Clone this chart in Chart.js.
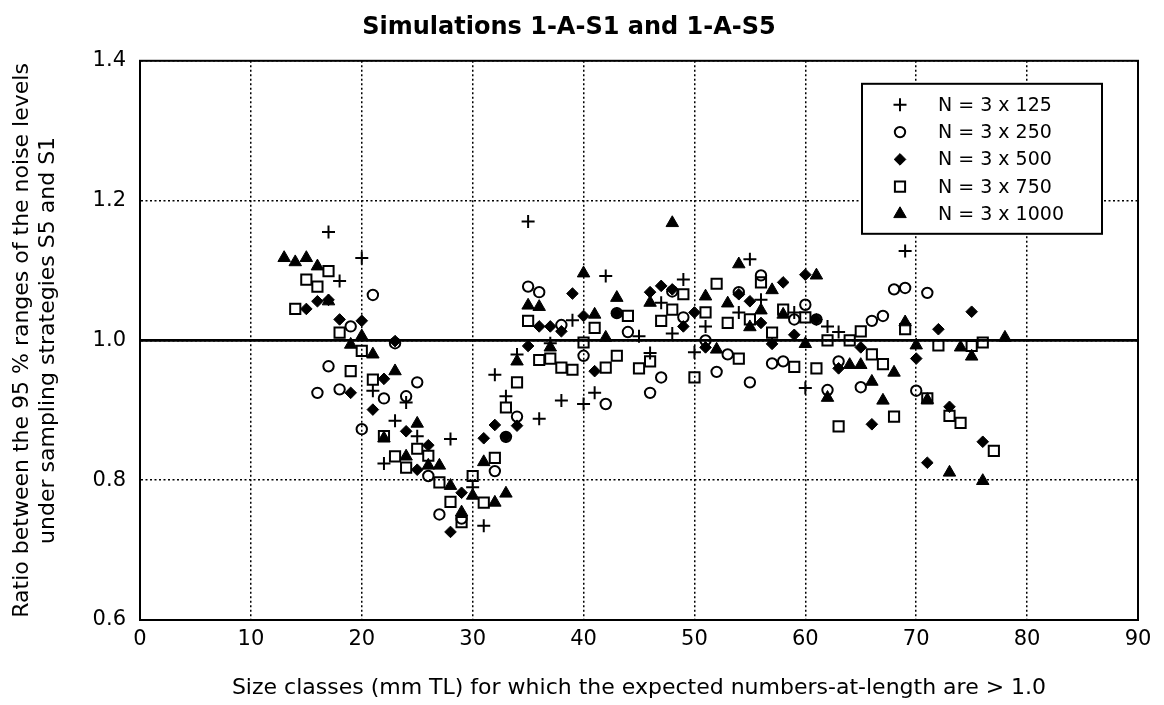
<!DOCTYPE html>
<html>
<head>
<meta charset="utf-8">
<title>Simulations 1-A-S1 and 1-A-S5</title>
<script src="https://cdn.jsdelivr.net/npm/chart.js@4.4.1/dist/chart.umd.min.js"></script>
<style>
  html, body { margin: 0; padding: 0; background: #fff; }
</style>
</head>
<body>
<canvas id="myChart" width="1164" height="705"></canvas>
<script>
// [size class (mm TL), ratio S5/S1] for each sample size
const n125 = [
  [17, 1.155], [18, 1.085], [20, 1.118], [21, 0.928], [22, 0.824], [23, 0.885],
  [24, 0.911], [25, 0.863], [28, 0.859], [30, 0.790], [31, 0.735], [32, 0.951],
  [33, 0.920], [34, 0.980], [35, 1.170], [36, 0.888], [37, 0.996], [38, 0.914],
  [39, 1.029], [40, 0.909], [41, 0.925], [42, 1.092], [45, 1.006], [46, 0.982],
  [47, 1.054], [48, 1.010], [49, 1.087], [50, 0.983], [51, 1.020], [54, 1.040],
  [55, 1.116], [56, 1.058], [59, 1.040], [60, 0.932], [62, 1.020], [63, 1.012],
  [69, 1.128]
];
const n250 = [
  [16, 0.925], [17, 0.963], [18, 0.930], [19, 1.020], [20, 0.873], [21, 1.065],
  [22, 0.917], [23, 0.996], [24, 0.920], [25, 0.940], [26, 0.806], [27, 0.751],
  [29, 0.745], [32, 0.813], [33, 0.862], [34, 0.891], [35, 1.077], [36, 1.069],
  [38, 1.022], [40, 0.978], [42, 0.909], [43, 1.039], [44, 1.012], [46, 0.925],
  [47, 0.947], [48, 1.070], [49, 1.033], [51, 1.000], [52, 0.955], [53, 0.980],
  [54, 1.069], [55, 0.940], [56, 1.093], [57, 0.967], [58, 0.970], [59, 1.030],
  [60, 1.051], [61, 1.030], [62, 0.929], [63, 0.970], [65, 0.933], [66, 1.028],
  [67, 1.035], [68, 1.073], [69, 1.075], [70, 0.928], [71, 1.068]
];
const n500 = [
  [15, 1.045], [16, 1.056], [17, 1.058], [18, 1.030], [19, 0.925], [20, 1.028],
  [21, 0.901], [22, 0.945], [23, 0.999], [24, 0.870], [25, 0.815], [26, 0.850],
  [28, 0.726], [29, 0.782], [31, 0.860], [32, 0.879], [33, 0.862], [34, 0.878],
  [35, 0.992], [36, 1.020], [37, 1.020], [38, 1.013], [39, 1.067], [40, 1.035],
  [41, 0.956], [43, 1.039], [46, 1.069], [47, 1.078], [48, 1.073], [49, 1.020],
  [50, 1.040], [51, 0.990], [54, 1.066], [55, 1.056], [56, 1.025], [57, 0.995],
  [58, 1.083], [59, 1.008], [60, 1.094], [61, 1.030], [63, 0.960], [65, 0.990],
  [66, 0.880], [70, 0.974], [71, 0.825], [72, 1.016], [73, 0.905], [75, 1.041],
  [76, 0.855]
];
const n750 = [
  [14, 1.045], [15, 1.087], [16, 1.077], [17, 1.099], [18, 1.011], [19, 0.956],
  [20, 0.985], [21, 0.944], [22, 0.863], [23, 0.834], [24, 0.818], [25, 0.845],
  [26, 0.835], [27, 0.797], [28, 0.769], [29, 0.740], [30, 0.806], [31, 0.768],
  [32, 0.832], [33, 0.904], [34, 0.940], [35, 1.028], [36, 0.972], [37, 0.974],
  [38, 0.961], [39, 0.958], [40, 0.997], [41, 1.018], [42, 0.961], [43, 0.978],
  [44, 1.035], [45, 0.960], [46, 0.970], [47, 1.028], [48, 1.044], [49, 1.066],
  [50, 0.947], [51, 1.040], [52, 1.081], [53, 1.025], [54, 0.974], [55, 1.030],
  [56, 1.083], [57, 1.011], [58, 1.044], [59, 0.962], [60, 1.033], [61, 0.960],
  [62, 1.000], [63, 0.877], [64, 1.000], [65, 1.013], [66, 0.980], [67, 0.966],
  [68, 0.891], [69, 1.016], [71, 0.917], [72, 0.993], [73, 0.892], [74, 0.882],
  [75, 0.992], [76, 0.997], [77, 0.842]
];
const n1000 = [
  [13, 1.118], [14, 1.112], [15, 1.118], [16, 1.106], [17, 1.056], [19, 0.994],
  [20, 1.006], [21, 0.980], [22, 0.860], [23, 0.956], [24, 0.834], [25, 0.881],
  [26, 0.821], [27, 0.821], [28, 0.792], [29, 0.754], [30, 0.778], [31, 0.826],
  [32, 0.768], [33, 0.781], [34, 0.970], [35, 1.050], [36, 1.048], [37, 0.990],
  [40, 1.096], [41, 1.037], [42, 1.004], [43, 1.061], [46, 1.054], [48, 1.168],
  [51, 1.063], [52, 0.987], [53, 1.053], [54, 1.109], [55, 1.019], [56, 1.043],
  [57, 1.072], [58, 1.037], [60, 0.995], [61, 1.093], [62, 0.918], [64, 0.965],
  [65, 0.965], [66, 0.941], [67, 0.914], [68, 0.954], [69, 1.026], [70, 0.993],
  [71, 0.915], [73, 0.811], [74, 0.990], [75, 0.977], [76, 0.799], [78, 1.004]
];

const seriesLabels = ['N = 3 x 125', 'N = 3 x 250', 'N = 3 x 500', 'N = 3 x 750', 'N = 3 x 1000'];
const refRatio = 1.0;

const FONT = "'DejaVu Sans', 'Liberation Sans', sans-serif";

const toPoints = arr => arr.map(p => ({ x: p[0], y: p[1] }));

const markers = [
  { pointStyle: 'cross', radius: 6.5, backgroundColor: '#000', borderWidth: 2 },
  { pointStyle: 'circle', radius: 5.2, backgroundColor: 'rgba(0,0,0,0)', borderWidth: 2 },
  { pointStyle: 'rectRot', radius: 5.8, backgroundColor: '#000', borderWidth: 1 },
  { pointStyle: 'rect', radius: 7.2, backgroundColor: 'rgba(0,0,0,0)', borderWidth: 2 },
  { pointStyle: 'triangle', radius: 7.2, backgroundColor: '#000', borderWidth: 1 }
];

const allSeries = [n125, n250, n500, n750, n1000];

const datasets = allSeries.map((s, i) => ({
  label: seriesLabels[i],
  data: toPoints(s),
  pointStyle: markers[i].pointStyle,
  pointRadius: markers[i].radius,
  pointBackgroundColor: markers[i].backgroundColor,
  pointBorderColor: '#000',
  pointBorderWidth: markers[i].borderWidth,
  showLine: false
}));

// solid line at ratio 1.0 and the full frame round the plot
const frameAndRef = {
  id: 'frameAndRef',
  beforeDatasetsDraw(chart) {
    const { ctx, chartArea: a, scales: { y } } = chart;
    const py = y.getPixelForValue(refRatio);
    ctx.save();
    ctx.strokeStyle = '#000';
    ctx.lineWidth = 2.8;
    ctx.beginPath();
    ctx.moveTo(a.left, py);
    ctx.lineTo(a.right, py);
    ctx.stroke();
    ctx.lineWidth = 2;
    ctx.strokeRect(a.left, a.top, a.right - a.left, a.bottom - a.top);
    ctx.restore();
  }
};

// boxed legend inside the top right corner of the plot
const legendBox = {
  id: 'legendBox',
  afterDraw(chart) {
    const { ctx, chartArea: a } = chart;
    const w = 240, h = 150;
    const left = a.right - 276;
    const top = a.top + 23;
    ctx.save();
    ctx.fillStyle = '#fff';
    ctx.fillRect(left, top, w, h);
    ctx.strokeStyle = '#000';
    ctx.lineWidth = 2;
    ctx.strokeRect(left, top, w, h);
    ctx.font = '19px ' + FONT;
    ctx.textBaseline = 'middle';
    ctx.textAlign = 'left';
    chart.data.datasets.forEach((ds, i) => {
      const ry = top + 21 + i * 27.3;
      ctx.fillStyle = markers[i].backgroundColor;
      ctx.strokeStyle = '#000';
      ctx.lineWidth = markers[i].borderWidth;
      Chart.helpers.drawPoint(ctx, {
        pointStyle: markers[i].pointStyle,
        radius: markers[i].radius,
        rotation: 0,
        borderWidth: markers[i].borderWidth
      }, left + 38, ry);
      ctx.fillStyle = '#000';
      ctx.fillText(ds.label, left + 76, ry + 1);
    });
    ctx.restore();
  }
};

const ctx = document.getElementById('myChart').getContext('2d');
const myChart = new Chart(ctx, {
  type: 'scatter',
  data: { datasets: datasets },
  options: {
    responsive: false,
    animation: false,
    layout: { padding: { left: 0, right: 26, top: 0, bottom: 0 } },
    plugins: {
      legend: { display: false },
      tooltip: { enabled: false },
      title: {
        display: true,
        text: 'Simulations 1-A-S1 and 1-A-S5',
        color: '#000',
        font: { family: FONT, size: 24, weight: 'bold', lineHeight: 1.2 },
        padding: { top: 13, bottom: 19 }
      }
    },
    scales: {
      x: {
        type: 'linear',
        min: 0,
        max: 90,
        afterFit(scale) { scale.height = 85; },
        ticks: {
          stepSize: 10,
          color: '#000',
          padding: 7,
          font: { family: FONT, size: 21, lineHeight: 1.2 }
        },
        grid: { color: '#000', lineWidth: 1.5, drawTicks: false },
        border: { color: '#000', width: 2, dash: [2, 2.5] },
        title: {
          display: true,
          text: 'Size classes (mm TL) for which the expected numbers-at-length are > 1.0',
          color: '#000',
          font: { family: FONT, size: 22, lineHeight: 1.2 },
          padding: { top: 0, bottom: 4 }
        }
      },
      y: {
        min: 0.6,
        max: 1.4,
        afterFit(scale) { scale.width = 140; },
        ticks: {
          stepSize: 0.2,
          color: '#000',
          padding: 14,
          font: { family: FONT, size: 21 },
          callback: v => v.toFixed(1)
        },
        grid: { color: '#000', lineWidth: 1.5, drawTicks: false },
        border: { color: '#000', width: 2, dash: [2, 2.5] },
        title: {
          display: true,
          text: ['Ratio between the 95 % ranges of the noise levels', 'under sampling strategies S5 and S1'],
          color: '#000',
          font: { family: FONT, size: 22, lineHeight: 1.2 },
          padding: { top: 9, bottom: 0 }
        }
      }
    }
  },
  plugins: [frameAndRef, legendBox]
});
</script>
</body>
</html>
